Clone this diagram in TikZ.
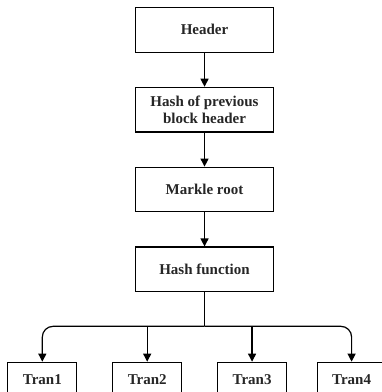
\documentclass[tikz,border=0pt]{standalone}
\usepackage{fontspec}
\setmainfont{Liberation Serif}
\usetikzlibrary{arrows.meta, positioning}

\begin{document}
\begin{tikzpicture}[
    node distance=25.5pt,
    box/.style={rectangle, draw, line width=0.9pt, minimum width=103pt, minimum height=33.5pt, align=center, font=\bfseries\fontsize{11.25}{12.5}\selectfont, text=black!85},
    tranbox/.style={rectangle, draw, line width=0.9pt, minimum width=51.75pt, minimum height=25.5pt, font=\bfseries\fontsize{11.25}{12.5}\selectfont, text=black!85},
    arrow/.style={-{Triangle[length=6pt, width=6pt]}, line width=0.9pt}
]
\useasboundingbox (-153.4pt,22.35pt) rectangle (132.4pt,-271.65pt);

% Block chain
\node[box] (header) {Header};
\node[box, below=of header] (prevhash) {Hash of previous\\block header};
\node[box, below=of prevhash] (markle) {Markle root};
\node[box, below=of markle] (hashfn) {Hash function};

% Transactions
\node[tranbox, below=52pt of hashfn, xshift=-43pt] (tran2) {Tran2};
\node[tranbox, left=26pt of tran2] (tran1) {Tran1};
\node[tranbox, right=26pt of tran2] (tran3) {Tran3};
\node[tranbox, right=22pt of tran3] (tran4) {Tran4};

% Connections
\draw[arrow] (header) -- (prevhash);
\draw[arrow] (prevhash) -- (markle);
\draw[arrow] (markle) -- (hashfn);

% Bus
\coordinate[below=25.5pt of hashfn.south] (bus);
\draw[line width=0.9pt] (hashfn.south) -- (bus);
\draw[arrow, rounded corners=8pt] (bus) -| (tran1.north);
\draw[arrow, rounded corners=8pt] (bus) -| (tran4.north);
\draw[arrow] (bus -| tran2.north) -- (tran2.north);
\draw[arrow] (bus -| tran3.north) -- (tran3.north);

\end{tikzpicture}
\end{document}
